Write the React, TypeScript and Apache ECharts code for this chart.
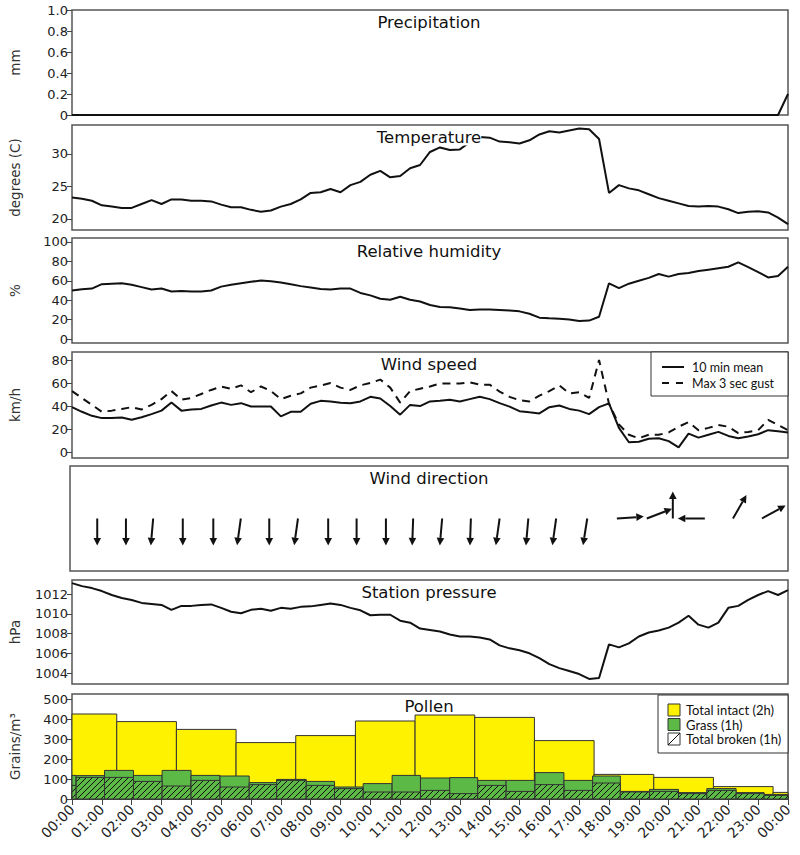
import React, { useEffect, useRef } from 'react';
import * as echarts from 'echarts';

const FONT = 'DejaVu Sans';
const LEGEND_FONT = 'Lato';

// readings every 20 minutes, 00:00 .. 24:00 (73 values)
const precipitation = [
  0, 0, 0, 0, 0, 0, 0, 0, 0, 0, 0, 0, 0, 0, 0, 0, 0, 0, 0, 0, 0, 0, 0, 0,
  0, 0, 0, 0, 0, 0, 0, 0, 0, 0, 0, 0, 0, 0, 0, 0, 0, 0, 0, 0, 0, 0, 0, 0,
  0, 0, 0, 0, 0, 0, 0, 0, 0, 0, 0, 0, 0, 0, 0, 0, 0, 0, 0, 0, 0, 0, 0, 0,
  0.2,
];
const temperature = [
  23.3, 23.1, 22.8, 22.1, 21.9, 21.7, 21.7, 22.3, 22.9, 22.3, 23.0, 23.0,
  22.8, 22.8, 22.7, 22.2, 21.8, 21.8, 21.4, 21.1, 21.3, 21.9, 22.3, 23.0,
  24.0, 24.1, 24.6, 24.1, 25.2, 25.7, 26.8, 27.4, 26.4, 26.6, 27.8, 28.3,
  30.3, 31.0, 30.6, 30.7, 31.8, 32.6, 32.5, 31.9, 31.8, 31.6, 32.1, 33.0,
  33.5, 33.3, 33.6, 33.9, 33.8, 32.3, 24.0, 25.2, 24.7, 24.4, 23.8, 23.2,
  22.8, 22.4, 22.0, 21.9, 22.0, 21.9, 21.5, 20.9, 21.1, 21.2, 21.0, 20.2,
  19.2,
];
const humidity = [
  50, 51.4, 52, 56.5, 57, 57.5, 56, 53.5, 51, 52, 49, 49.5,
  49, 49, 50, 54, 56, 57.5, 59, 60.3, 59.5, 58.3, 56.5, 54.5,
  53, 51.5, 51, 52, 52, 47.5, 45, 41.5, 40.5, 43.5, 40.5, 38.7,
  35, 33, 32.8, 31.5, 30, 30.5, 30.5, 30, 29.5, 28.5, 26, 22,
  21.3, 20.8, 20.2, 18.5, 19, 23, 57.4, 52.5, 57, 60, 63, 67,
  64.3, 67, 68, 70, 71.5, 73, 74.5, 79, 74, 69, 63.5, 65,
  74.5,
];
const windMean = [
  39, 35, 31.5, 29.5, 29.5, 30, 28, 30.3, 33, 36, 43, 36,
  37, 37.5, 40.5, 43, 41, 42.5, 39.6, 39.6, 39.6, 31, 35, 35,
  42, 44.5, 43.9, 42.8, 42.5, 44, 48, 46.5, 40, 32.5, 41, 40,
  44, 44.5, 45.5, 44, 46, 48, 46, 42.5, 39.5, 35.5, 34.5, 33.6,
  39, 40.5, 37.5, 36, 33, 39, 42.3, 21, 8.5, 9, 11.5, 12,
  9.5, 4, 16, 12.5, 15, 17.5, 14, 12, 13.5, 15.5, 19, 18,
  17,
];
const windGust = [
  53, 47, 41, 35, 36, 37.5, 39, 37, 41, 46, 53, 45.5,
  47, 50.5, 54, 57, 55, 58, 52, 57, 53, 46, 49, 51,
  56, 57.8, 60, 56, 54, 58, 60, 63, 56, 43, 53, 55,
  57, 59.7, 59.7, 59.7, 60.5, 58.6, 58.6, 52.5, 48, 45, 44, 49,
  53, 58, 51, 52, 47, 80, 42, 24, 15, 12, 15, 15,
  17, 22, 26, 19, 21, 23.5, 22, 16.5, 17.5, 19, 28, 23.5,
  19,
];
const pressure = [
  1013.1, 1012.8, 1012.6, 1012.3, 1011.9, 1011.6, 1011.4, 1011.1, 1011.0, 1010.9, 1010.4, 1010.8,
  1010.8, 1010.9, 1010.95, 1010.6, 1010.2, 1010.05, 1010.4, 1010.5, 1010.3, 1010.6, 1010.5, 1010.7,
  1010.75, 1010.9, 1011.05, 1010.9, 1010.6, 1010.35, 1009.85, 1009.9, 1009.9, 1009.3, 1009.1, 1008.5,
  1008.35, 1008.2, 1007.9, 1007.7, 1007.7, 1007.6, 1007.4, 1006.8, 1006.5, 1006.3, 1006.0, 1005.5,
  1004.9, 1004.5, 1004.2, 1003.9, 1003.4, 1003.5, 1006.9, 1006.6, 1007.0, 1007.7, 1008.1, 1008.3,
  1008.6, 1009.1, 1009.8, 1008.9, 1008.6, 1009.1, 1010.6, 1010.8, 1011.4, 1011.9, 1012.3, 1011.9,
  1012.4,
];

// wind direction: observation time (h) and direction the wind blows from (deg)
const windDirHours = [
  0.91, 1.87, 2.78, 3.77, 4.79, 5.71, 6.66, 7.62, 8.63, 9.58, 10.56, 11.47,
  12.44, 13.4, 14.36, 15.32, 16.25, 17.29, 18.28, 19.28, 20.15, 21.22, 22.16, 23.13,
];
const windDirFrom = [
  0, 0, 5, 0, 0, 8, 0, 8, 0, 0, 0, 2,
  5, 2, 8, 5, 8, 9, 266, 249, 180, 90, 210, 241,
];

// pollen
const intactEdges = [0, 1.5, 3.5, 5.5, 7.5, 9.5, 11.5, 13.5, 15.5, 17.5, 19.5, 21.5, 23.5, 24];
const intactValues = [425, 387, 348, 282, 317, 390, 420, 408, 292, 123, 108, 62, 33];
const hourlyEdges = [
  0, 0.14, 1.09, 2.06, 3.02, 3.99, 4.96, 5.94, 6.86, 7.85, 8.8, 9.76, 10.73, 11.68,
  12.66, 13.6, 14.55, 15.52, 16.49, 17.45, 18.38, 19.36, 20.33, 21.28, 22.26, 23.2, 24,
];
const grassValues = [
  118, 117, 143, 118, 143, 118, 115, 82, 98, 88, 60, 77, 118,
  105, 107, 93, 93, 132, 93, 115, 38, 48, 32, 52, 32, 23,
];
const brokenValues = [
  68, 108, 108, 88, 65, 93, 60, 72, 93, 68, 52, 35, 35,
  43, 27, 68, 38, 72, 43, 80, 35, 38, 27, 43, 27, 18,
];

const panelTitles = [
  'Precipitation', 'Temperature', 'Relative humidity', 'Wind speed',
  'Wind direction', 'Station pressure', 'Pollen',
];
const tempTicks = [20, 25, 30];
const humidityTicks = [0, 20, 40, 60, 80, 100];
const windTicks = [0, 20, 40, 60, 80];
const pressureTicks = [1004, 1006, 1008, 1010, 1012];
const pollenTicks = [0, 100, 200, 300, 400, 500];

const GRID_LEFT = 70;
const GRID_WIDTH = 718;
const panelTops = [10, 125, 238, 352, 466, 580, 694];
const panelHeights = [105, 105, 105, 106, 105, 104, 105];
const titleYs = [22, 137, 251, 364, 478, 592, 706];

const YELLOW = '#fff200';
const GREEN = '#5cb946';
const EDGE = '#333';

const toSeries = (vals: number[]) => vals.map((v, i) => [i / 3, v]);
const toBars = (edges: number[], vals: number[]) =>
  vals.map((v, i) => [edges[i], edges[i + 1], v]);

const hatchLines = (x0: number, y0: number, x1: number, y1: number, step: number) => {
  const out: any[] = [];
  const start = Math.ceil((x0 + y0) / step) * step;
  for (let c = start; c <= x1 + y1; c += step) {
    const xs = Math.max(x0, c - y1);
    const xe = Math.min(x1, c - y0);
    if (xe > xs) {
      out.push({
        type: 'line',
        shape: { x1: xs, y1: c - xs, x2: xe, y2: c - xe },
        style: { stroke: '#111', lineWidth: 1 },
      });
    }
  }
  return out;
};

const makeY = (gridIndex: number, cfg: any) => ({
  type: 'value',
  gridIndex,
  min: cfg.min,
  max: cfg.max,
  interval: cfg.interval,
  show: cfg.show !== false,
  name: cfg.name,
  nameLocation: 'middle',
  nameGap: 50,
  nameTextStyle: { fontFamily: FONT, fontSize: 13.5, color: '#333' },
  axisLine: { show: false },
  axisTick: {
    show: true,
    length: 5,
    customValues: cfg.ticks,
    lineStyle: { color: '#444', width: 1 },
  },
  axisLabel: {
    customValues: cfg.ticks,
    formatter: cfg.formatter || ((v: number) => String(v)),
    fontFamily: FONT,
    fontSize: 13,
    color: '#222',
    margin: 4,
  },
  splitLine: { show: false },
});

const lineSeries = (g: number, vals: number[], dashed = false) => ({
  type: 'line',
  xAxisIndex: g,
  yAxisIndex: g,
  data: toSeries(vals),
  symbol: 'none',
  silent: true,
  z: 3,
  lineStyle: { color: '#111', width: 2, type: dashed ? [8, 6] : 'solid' },
});

const barSeries = (data: number[][], fill: string, hatch: boolean) => ({
  type: 'custom',
  xAxisIndex: 6,
  yAxisIndex: 6,
  data,
  encode: { x: [0, 1], y: 2 },
  silent: true,
  renderItem: (_params: any, api: any) => {
    const p0 = api.coord([api.value(0), api.value(2)]);
    const p1 = api.coord([api.value(1), 0]);
    const shape = { x: p0[0], y: p0[1], width: p1[0] - p0[0], height: p1[1] - p0[1] };
    if (!hatch) {
      return { type: 'rect', shape, style: { fill, stroke: EDGE, lineWidth: 1 } };
    }
    return {
      type: 'group',
      children: [
        { type: 'rect', shape, style: { fill, stroke: 'none' } },
        ...hatchLines(p0[0], p0[1], p1[0], p1[1], 6),
        { type: 'rect', shape, style: { fill: 'none', stroke: EDGE, lineWidth: 1 } },
      ],
    };
  },
});

const arrowSeries = {
  type: 'custom',
  xAxisIndex: 4,
  yAxisIndex: 4,
  data: windDirHours.map((h, i) => [h, windDirFrom[i]]),
  encode: { x: 0 },
  silent: true,
  renderItem: (_params: any, api: any) => {
    const [x, y] = api.coord([api.value(0), 0]);
    const b = ((api.value(1) + 180) * Math.PI) / 180;
    const len = 27;
    const headLen = 7.5;
    const half = 3.8;
    const sx = Math.sin(b);
    const cy = Math.cos(b);
    const hx = x + sx * len;
    const hy = y - cy * len;
    const bx = hx - sx * headLen;
    const by = hy + cy * headLen;
    return {
      type: 'group',
      children: [
        {
          type: 'line',
          shape: { x1: x, y1: y, x2: bx, y2: by },
          style: { stroke: '#111', lineWidth: 2 },
        },
        {
          type: 'polygon',
          shape: {
            points: [
              [hx, hy],
              [bx + cy * half, by + sx * half],
              [bx - cy * half, by - sx * half],
            ],
          },
          style: { fill: '#111' },
        },
      ],
    };
  },
};

const textEl = (text: string, x: number, y: number, font: string, align = 'left', extra: any = {}) => ({
  type: 'text',
  x,
  y,
  z: 100,
  style: {
    text,
    font,
    fill: '#111',
    align,
    verticalAlign: 'middle',
    textAlign: align,
    textVerticalAlign: 'middle',
    ...extra,
  },
});

const App: React.FC = () => {
  const chartRef = useRef<HTMLDivElement>(null);

  useEffect(() => {
    const chart = echarts.init(chartRef.current!, undefined, { renderer: 'svg' });

    const grids = panelTops.map((top, i) => ({
      left: GRID_LEFT,
      top,
      width: GRID_WIDTH,
      height: panelHeights[i],
      show: true,
      borderColor: '#555',
      borderWidth: 1.5,
      backgroundColor: 'transparent',
    }));

    const xAxes = panelTops.map((_t, i) => ({
      type: 'value',
      gridIndex: i,
      min: 0,
      max: 24,
      interval: 1,
      show: i === 6,
      axisLine: { show: false },
      axisTick: { show: true, length: 6, lineStyle: { color: '#444', width: 1 } },
      axisLabel: {
        rotate: 45,
        margin: 8,
        fontFamily: FONT,
        fontSize: 14,
        color: '#222',
        formatter: (v: number) => `${String(v % 24).padStart(2, '0')}:00`,
      },
      splitLine: { show: false },
    }));

    const yAxes = [
      makeY(0, {
        name: 'mm', min: 0, max: 1, interval: 0.2,
        formatter: (v: number) => (v === 0 ? '0' : v.toFixed(1)),
      }),
      makeY(1, { name: 'degrees (C)', min: 18.3, max: 34.45, ticks: tempTicks }),
      makeY(2, { name: '%', min: -4.1, max: 104.1, ticks: humidityTicks }),
      makeY(3, { name: 'km/h', min: -5.2, max: 87, ticks: windTicks }),
      makeY(4, { min: -1, max: 1, show: false }),
      makeY(5, { name: 'hPa', min: 1002.89, max: 1013.42, ticks: pressureTicks }),
      makeY(6, { name: 'Grains/m\u00b3', min: 0, max: 525, ticks: pollenTicks }),
    ];

    const titleFont = `16.5px "${FONT}"`;
    const legendFont = `12.5px "${LEGEND_FONT}"`;
    const pollenFont = `13px "${LEGEND_FONT}"`;

    const graphic: any[] = [
      ...panelTitles.map((t, i) =>
        textEl(t, GRID_LEFT + GRID_WIDTH / 2, titleYs[i], titleFont, 'center',
          i === 1 ? { backgroundColor: '#fff' } : {})
      ),
      // wind speed legend
      {
        type: 'rect', z: 99,
        shape: { x: 651, y: 352, width: 137, height: 44 },
        style: { fill: '#fff', stroke: EDGE, lineWidth: 1 },
      },
      {
        type: 'line', z: 100,
        shape: { x1: 662, y1: 367, x2: 684, y2: 367 },
        style: { stroke: '#111', lineWidth: 2 },
      },
      {
        type: 'line', z: 100,
        shape: { x1: 662, y1: 383, x2: 685, y2: 383 },
        style: { stroke: '#111', lineWidth: 2, lineDash: [7, 7] },
      },
      textEl('10 min mean', 692, 367, legendFont),
      textEl('Max 3 sec gust', 692, 383, legendFont),
      // pollen legend
      {
        type: 'rect', z: 99,
        shape: { x: 658, y: 695, width: 130, height: 58 },
        style: { fill: '#fff', stroke: EDGE, lineWidth: 1 },
      },
      {
        type: 'rect', z: 100,
        shape: { x: 668, y: 704, width: 12, height: 12 },
        style: { fill: YELLOW, stroke: EDGE, lineWidth: 1 },
      },
      {
        type: 'rect', z: 100,
        shape: { x: 668, y: 718.5, width: 12, height: 12 },
        style: { fill: GREEN, stroke: EDGE, lineWidth: 1 },
      },
      {
        type: 'rect', z: 100,
        shape: { x: 668, y: 733, width: 12, height: 12 },
        style: { fill: '#fff', stroke: EDGE, lineWidth: 1 },
      },
      {
        type: 'line', z: 101,
        shape: { x1: 668, y1: 745, x2: 680, y2: 733 },
        style: { stroke: '#111', lineWidth: 1 },
      },
      textEl('Total intact (2h)', 686, 710, pollenFont),
      textEl('Grass (1h)', 686, 724.5, pollenFont),
      textEl('Total broken (1h)', 686, 739, pollenFont),
    ];

    chart.setOption({
      animation: false,
      backgroundColor: '#fff',
      textStyle: { fontFamily: FONT },
      grid: grids,
      xAxis: xAxes,
      yAxis: yAxes,
      graphic,
      series: [
        lineSeries(0, precipitation),
        lineSeries(1, temperature),
        lineSeries(2, humidity),
        lineSeries(3, windMean),
        lineSeries(3, windGust, true),
        arrowSeries,
        lineSeries(5, pressure),
        barSeries(toBars(intactEdges, intactValues), YELLOW, false),
        barSeries(toBars(hourlyEdges, grassValues), GREEN, false),
        barSeries(toBars(hourlyEdges, brokenValues), GREEN, true),
      ],
    });

    return () => {
      chart.dispose();
    };
  }, []);

  return (
    <div
      ref={chartRef}
      style={{ position: 'absolute', left: 0, top: 0, width: 800, height: 855, background: '#fff' }}
    />
  );
};

export default App;
